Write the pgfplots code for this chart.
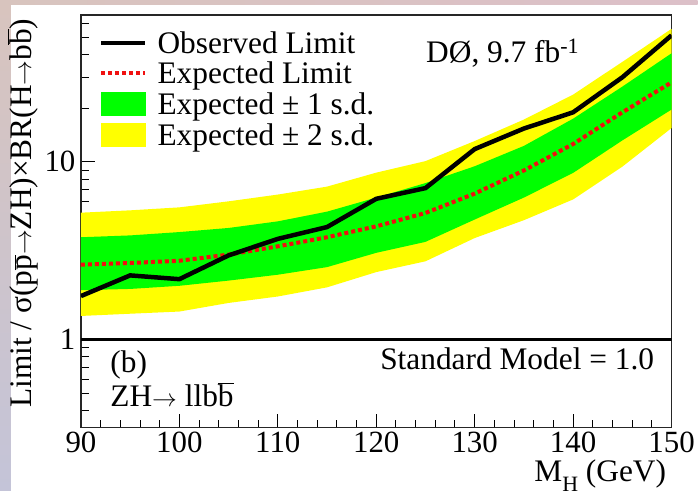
\documentclass[border=0pt]{standalone}
\usepackage{fontspec}
\setmainfont{Liberation Serif}
\usepackage{pgfplots}
\pgfplotsset{compat=1.18}
\definecolor{bgtl}{HTML}{D8C4BE}
\definecolor{bgtr}{HTML}{DCC0C8}
\definecolor{bgbl}{HTML}{C4C4D8}
\definecolor{bandgreen}{HTML}{00FF00}
\definecolor{bandyellow}{HTML}{FFFF00}
\definecolor{exred}{HTML}{F01010}
\pgfplotsset{
  lineleg/.style={legend image code/.code={\draw[##1] (0bp,3bp) -- (44bp,3bp);}},
  boxleg/.style={legend image code/.code={\fill[##1] (0bp,-8.5bp) rectangle (44bp,14.5bp);}},
}
\newcommand{\arr}{\ensuremath{\rightarrow}}

\begin{document}
\begin{tikzpicture}[font=\fontsize{31.5}{37}\selectfont]
\fill[white] (0,0) rectangle (698bp,491bp);
\shade[left color=bgtl, right color=bgtr] (0,486bp) rectangle (698bp,491bp);
\shade[top color=bgtl, bottom color=bgbl] (0,0) rectangle (11bp,486bp);
\begin{axis}[
  at={(81bp,63bp)}, anchor=south west,
  scale only axis, width=591bp, height=413bp,
  xmin=90, xmax=150,
  ymode=log, ymin=0.32, ymax=67,
  xtick={90,100,...,150}, minor x tick num=4,
  ytick={1,10}, yticklabels={1,10},
  minor ytick={0.4,0.5,0.6,0.7,0.8,0.9,2,3,4,5,6,7,8,9,20,30,40,50,60},
  tick pos=left, tick align=inside,
  major tick length=14bp, minor tick length=8bp,
  every tick/.style={black, line width=1bp},
  axis line style={line width=1.3bp, black!85},
  /pgf/number format/assume math mode=true,
  tick label style={font=\fontsize{31}{36}\selectfont},
  xticklabel style={yshift=-1bp},
  yticklabel style={xshift=-2bp},
  xlabel={M\raisebox{-0.3em}{\fontsize{22}{24}\selectfont H} (GeV)},
  every axis x label/.style={at={(axis description cs:1,0)}, anchor=base east, yshift=-54bp, xshift=-2bp},
  ylabel={Limit / σ(p\ensuremath{\overline{\mbox{p}}}\arr ZH)×BR(H\arr b\ensuremath{\overline{\mbox{b}}})},
  every axis y label/.style={at={(axis description cs:-0.099,0.52)}, rotate=90, anchor=center},
  legend cell align=left,
  legend style={at={(axis description cs:0.0304,0.961)}, anchor=north west,
    draw=none, fill=none, inner sep=0pt, row sep=1.5bp, column sep=10bp,
    font=\fontsize{31.5}{37}\selectfont,
    nodes={inner sep=0pt, text height=22bp, text depth=7bp}},
]
\addlegendimage{black, line width=4.5bp, lineleg}
\addlegendentry{Observed Limit}
\addlegendimage{exred, line width=4bp, dash pattern=on 4bp off 3bp, lineleg}
\addlegendentry{Expected Limit}
\addlegendimage{bandgreen, boxleg}
\addlegendentry{Expected ± 1 s.d.}
\addlegendimage{bandyellow, boxleg}
\addlegendentry{Expected ± 2 s.d.}

% Expected +/- 2 s.d. band: upper edge 90->150, lower edge 150->90
\addplot[fill=bandyellow, draw=none, forget plot] coordinates {
 (90,5.18) (95,5.34) (100,5.55) (105,6.00) (110,6.55) (115,7.26) (120,8.70)
 (125,10.1) (130,13.1) (135,17.3) (140,23.9) (145,36.5) (150,56.0)
 (150,15.5) (145,9.40) (140,6.15) (135,4.70) (130,3.73) (125,2.76) (120,2.40)
 (115,1.97) (110,1.75) (105,1.61) (100,1.44) (95,1.40) (90,1.36)
} -- cycle;
% Expected +/- 1 s.d. band
\addplot[fill=bandgreen, draw=none, forget plot] coordinates {
 (90,3.77) (95,3.86) (100,4.03) (105,4.25) (110,4.63) (115,5.25) (120,6.30)
 (125,7.60) (130,9.45) (135,12.3) (140,17.5) (145,26.5) (150,40.8)
 (150,19.7) (145,13.2) (140,8.67) (135,6.30) (130,4.74) (125,3.55) (120,3.08)
 (115,2.56) (110,2.32) (105,2.15) (100,2.01) (95,1.93) (90,1.90)
} -- cycle;
% Expected limit
\addplot[exred, line width=4bp, dash pattern=on 4bp off 3bp, forget plot] coordinates {
 (90,2.64) (95,2.70) (100,2.78) (105,3.01) (110,3.35) (115,3.77) (120,4.34)
 (125,5.16) (130,6.63) (135,8.95) (140,12.6) (145,19.0) (150,28.0)
};
% Observed limit
\addplot[black, line width=4.5bp, forget plot] coordinates {
 (90,1.76) (95,2.30) (100,2.19) (105,2.98) (110,3.69) (115,4.30) (120,6.20)
 (125,7.12) (130,11.8) (135,15.4) (140,19.0) (145,29.9) (150,51.5)
};
% Standard Model = 1
\addplot[black, line width=3.5bp, forget plot] coordinates {(90,1) (150,1)};
\end{axis}
\node[anchor=base west] at (423bp,428bp) {DØ, 9.7 fb\textsuperscript{-1}};
\node[anchor=base west] at (377bp,121bp) {Standard Model = 1.0};
\node[anchor=base west] at (107bp,118bp) {(b)};
\node[anchor=base west] at (107bp,84bp) {ZH\arr\ llb\ensuremath{\overline{\mbox{b}}}};
\end{tikzpicture}
\end{document}
